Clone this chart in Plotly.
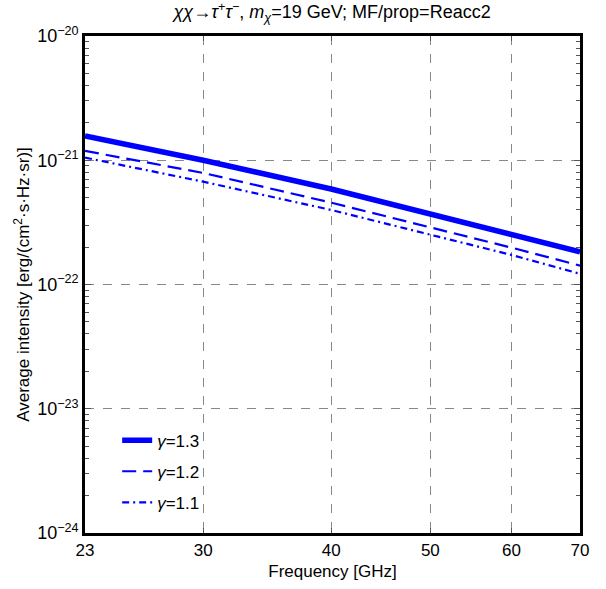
import plotly.graph_objects as go

freq = [23, 30, 40, 50, 60, 70]
g13 = [1.57e-21, 1.00e-21, 5.87e-22, 3.69e-22, 2.55e-22, 1.83e-22]
g12 = [1.19e-21, 7.90e-22, 4.56e-22, 2.90e-22, 1.98e-22, 1.42e-22]
g11 = [1.05e-21, 6.72e-22, 3.98e-22, 2.51e-22, 1.73e-22, 1.22e-22]
xticks = [23, 30, 40, 50, 60, 70]
yticks = [1e-20, 1e-21, 1e-22, 1e-23, 1e-24]
yticktext = ["10<sup>−20</sup>", "10<sup>−21</sup>", "10<sup>−22</sup>", "10<sup>−23</sup>", "10<sup>−24</sup>"]
yminor = [m * 10.0 ** e for e in range(-24, -20) for m in range(2, 10)]

FAM = "Liberation Sans"

fig = go.Figure()
fig.add_trace(go.Scatter(x=freq, y=g13, mode="lines", name="<i>γ</i>=1.3", legendgroup="a",
                         line=dict(color="#0000FF", width=5.5)))
fig.add_trace(go.Scatter(x=freq, y=g12, mode="lines", name="<i>γ</i>=1.2", legendgroup="b",
                         line=dict(color="#0000FF", width=2.2, dash="14px,7px")))
fig.add_trace(go.Scatter(x=freq, y=g11, mode="lines", name="<i>γ</i>=1.1", legendgroup="c",
                         line=dict(color="#0000FF", width=2.2, dash="7px,4px,2px,4px")))

fig.update_layout(
    width=606, height=589,
    margin=dict(l=85, r=26, t=36, b=56),
    paper_bgcolor="white", plot_bgcolor="white",
    font=dict(family=FAM, size=16, color="black"),
    title=dict(text="<i>χχ</i>→<i>τ</i><sup>+</sup><i>τ</i><sup>−</sup>, <i>m<sub>χ</sub></i>=19 GeV; MF/prop=Reacc2",
               x=0.548, xanchor="center", y=0.99, yanchor="top",
               font=dict(family=FAM, size=18, color="black")),
    showlegend=True,
    legend=dict(x=0.065, y=0.025, xanchor="left", yanchor="bottom", bgcolor="rgba(0,0,0,0)",
                font=dict(family=FAM, size=17, color="black"), tracegroupgap=6),
)
fig.update_xaxes(type="log", range=[1.3617, 1.8451], tickvals=xticks, ticktext=[str(v) for v in xticks],
                 tickfont=dict(family=FAM, size=17, color="black"),
                 showgrid=True, gridcolor="#888888", griddash="dash", gridwidth=1,
                 showline=True, linecolor="black", linewidth=2.5, mirror="allticks",
                 ticks="inside", ticklen=5, tickcolor="#555555",
                 title=dict(text="Frequency [GHz]", standoff=6, font=dict(family=FAM, size=17, color="black")),
                 zeroline=False)
fig.update_yaxes(type="log", range=[-24, -20], tickvals=yticks, ticktext=yticktext,
                 tickfont=dict(family=FAM, size=18, color="black"),
                 showgrid=True, gridcolor="#888888", griddash="dash", gridwidth=1,
                 showline=True, linecolor="black", linewidth=2.5, mirror="allticks",
                 ticks="inside", ticklen=6, tickcolor="#555555",
                 minor=dict(tickvals=yminor, ticks="inside", ticklen=4, tickcolor="#555555", showgrid=False),
                 title=dict(text="Average intensity [erg/(cm<sup>2</sup>·s·Hz·sr)]", standoff=4,
                            font=dict(family=FAM, size=17, color="black")),
                 zeroline=False)

fig.write_html("out.html")
